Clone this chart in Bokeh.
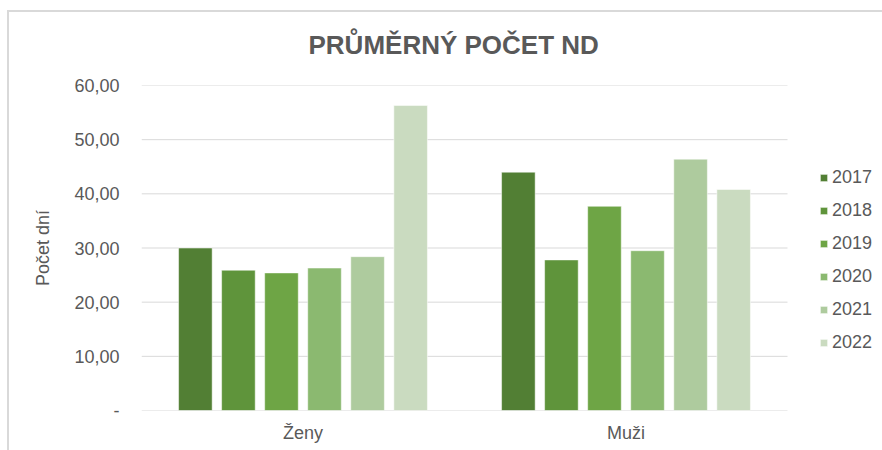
from bokeh.plotting import figure
from bokeh.models import ColumnDataSource, Range1d, FixedTicker, Legend, LegendItem
from bokeh.embed import file_html
from bokeh.resources import INLINE

categories = ["Ženy", "Muži"]
years = ["2017", "2018", "2019", "2020", "2021", "2022"]
zeny = [30.0, 25.9, 25.4, 26.3, 28.4, 56.3]
muzi = [44.0, 27.8, 37.7, 29.5, 46.4, 40.8]
tick_values = [0, 10, 20, 30, 40, 50, 60]
tick_labels = ["-", "10,00", "20,00", "30,00", "40,00", "50,00", "60,00"]
colors = ["#527F34", "#5F943B", "#6EA545", "#8BB970", "#AECB9E", "#CADBC0"]

FONT = "Liberation Sans"
GREY = "#595959"
GRID = "#D9D9D9"

# layout: plot area 141..787 px holds the two categories (323 px each);
# the numeric x range continues to the right edge to hold the legend.
CAT_PX = 323.0
X_END = (882 - 141) / CAT_PX
STEP = 0.1333
BAR_W = 0.104

centers = [c + 0.5 for c in range(len(categories))]

p = figure(x_range=Range1d(0, X_END),
           y_range=Range1d(0, 60),
           width=882, height=450,
           output_backend="svg", toolbar_location=None,
           min_border_left=141, min_border_right=0,
           min_border_top=85, min_border_bottom=40)
p.background_fill_color = None
p.border_fill_color = None
p.styles = {"box-shadow": "inset 7px 10px 0 0 white, inset 9px 12px 0 0 #D9D9D9"}

p.title.text = "PRŮMĚRNÝ POČET ND"
p.title.text_font = FONT
p.title.text_font_size = "26px"
p.title.text_font_style = "bold"
p.title.text_color = GREY
p.title.align = "left"
p.title.offset = 167
p.title.standoff = 52

# horizontal gridlines across the category area only
p.segment(x0=[0] * len(tick_values), x1=[len(categories)] * len(tick_values),
          y0=tick_values, y1=tick_values, line_color=GRID, line_width=1)

items = []
for i, y in enumerate(years):
    src = ColumnDataSource(dict(x=[c + (i - 2.5) * STEP for c in centers],
                                top=[zeny[i], muzi[i]]))
    r = p.vbar(x="x", top="top", width=BAR_W, source=src,
               fill_color=colors[i], line_color="white", line_alpha=0.5, line_width=1)
    items.append(LegendItem(label=y, renderers=[r]))

legend = Legend(items=items, location=(678, 56), orientation="vertical",
                padding=0, margin=0, spacing=9,
                glyph_width=9, glyph_height=9, label_height=24,
                label_standoff=4,
                label_text_font=FONT, label_text_font_size="18px",
                label_text_color=GREY,
                border_line_color=None, background_fill_alpha=0)
p.add_layout(legend, "center")

p.yaxis.ticker = FixedTicker(ticks=tick_values)
p.yaxis.major_label_overrides = {v: t for v, t in zip(tick_values, tick_labels)}
p.yaxis.axis_line_color = None
p.yaxis.major_tick_line_color = None
p.yaxis.minor_tick_line_color = None
p.yaxis.major_tick_out = 0
p.yaxis.major_tick_in = 0
p.yaxis.major_label_standoff = 22
p.yaxis.major_label_text_font = FONT
p.yaxis.major_label_text_font_size = "18px"
p.yaxis.major_label_text_color = GREY
p.yaxis.axis_label = "Počet dní"
p.yaxis.axis_label_text_font = FONT
p.yaxis.axis_label_text_font_size = "18px"
p.yaxis.axis_label_text_font_style = "normal"
p.yaxis.axis_label_text_color = GREY
p.yaxis.axis_label_standoff = 18

p.xaxis.ticker = FixedTicker(ticks=centers)
p.xaxis.major_label_overrides = {c: n for c, n in zip(centers, categories)}
p.xaxis.axis_line_color = None
p.xaxis.major_tick_line_color = None
p.xaxis.minor_tick_line_color = None
p.xaxis.major_tick_out = 0
p.xaxis.major_tick_in = 0
p.xaxis.major_label_standoff = 12
p.xaxis.major_label_text_font = FONT
p.xaxis.major_label_text_font_size = "18px"
p.xaxis.major_label_text_color = GREY

p.xgrid.grid_line_color = None
p.ygrid.grid_line_color = None
p.outline_line_color = None

open("out.html", "w").write(file_html(p, INLINE))
